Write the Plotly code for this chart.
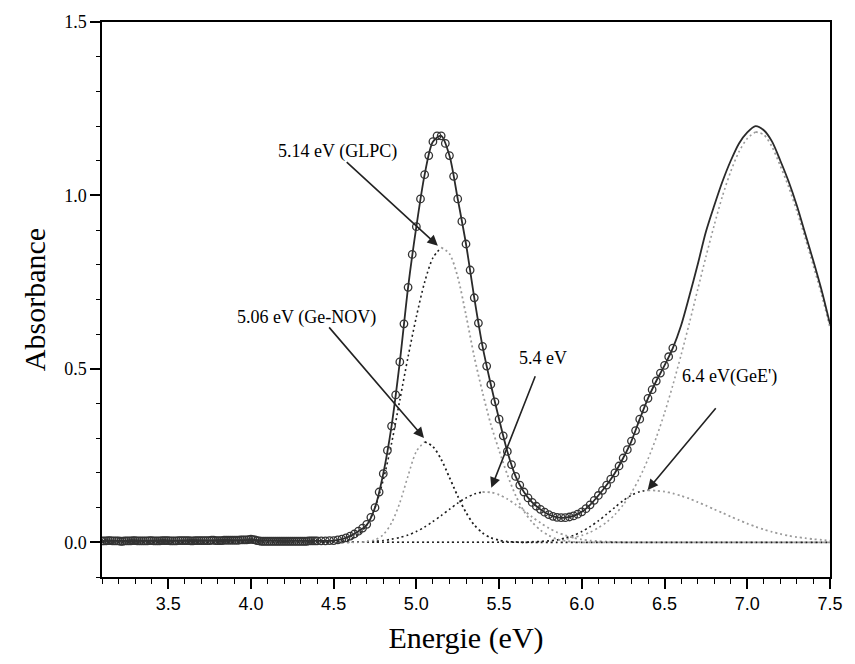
import plotly.graph_objects as go

# ---------------- data ----------------
# measured spectrum (open circles)
data_energy = [
    3.1, 3.1125, 3.125, 3.1375, 3.15, 3.1625, 3.175, 3.1875, 3.2, 3.2125, 3.225, 3.2375, 3.25, 3.2625, 3.275, 3.2875,
    3.3, 3.3125, 3.325, 3.3375, 3.35, 3.3625, 3.375, 3.3875, 3.4, 3.4125, 3.425, 3.4375, 3.45, 3.4625, 3.475, 3.4875,
    3.5, 3.5125, 3.525, 3.5375, 3.55, 3.5625, 3.575, 3.5875, 3.6, 3.6125, 3.625, 3.6375, 3.65, 3.6625, 3.675, 3.6875,
    3.7, 3.7125, 3.725, 3.7375, 3.75, 3.7625, 3.775, 3.7875, 3.8, 3.8125, 3.825, 3.8375, 3.85, 3.8625, 3.875, 3.8875,
    3.9, 3.9125, 3.925, 3.9375, 3.95, 3.9625, 3.975, 3.9875, 4.0, 4.0125, 4.025, 4.0375, 4.05, 4.0625, 4.075, 4.0875,
    4.1, 4.1125, 4.125, 4.1375, 4.15, 4.1625, 4.175, 4.1875, 4.2, 4.2125, 4.225, 4.2375, 4.25, 4.2625, 4.275, 4.2875,
    4.3, 4.3125, 4.325, 4.3375, 4.35, 4.3625, 4.375, 4.3875,
    4.4, 4.425, 4.45, 4.475, 4.5, 4.525, 4.55, 4.575, 4.6, 4.625, 4.65, 4.675, 4.7, 4.725, 4.75, 4.775,
    4.8, 4.825, 4.85, 4.875, 4.9, 4.925, 4.95, 4.975, 5.0, 5.025, 5.05, 5.075, 5.1, 5.125, 5.15, 5.175,
    5.2, 5.225, 5.25, 5.275, 5.3, 5.325, 5.35, 5.375, 5.4, 5.425, 5.45, 5.475, 5.5, 5.525, 5.55, 5.575,
    5.6, 5.625, 5.65, 5.675, 5.7, 5.725, 5.75, 5.775, 5.8, 5.825, 5.85, 5.875, 5.9, 5.925, 5.95, 5.975,
    6.0, 6.025, 6.05, 6.075, 6.1, 6.125, 6.15, 6.175, 6.2, 6.225, 6.25, 6.275, 6.3, 6.325, 6.35, 6.375,
    6.4, 6.425, 6.45, 6.475, 6.5, 6.525, 6.55]
data_abs = [
    0.004, 0.004, 0.004, 0.005, 0.005, 0.004, 0.004, 0.004, 0.004, 0.003, 0.003, 0.004, 0.004, 0.004, 0.004, 0.005,
    0.005, 0.004, 0.004, 0.004, 0.004, 0.004, 0.004, 0.005, 0.005, 0.004, 0.004, 0.004, 0.004, 0.005, 0.005, 0.005,
    0.005, 0.004, 0.004, 0.004, 0.004, 0.005, 0.005, 0.005, 0.005, 0.005, 0.005, 0.004, 0.004, 0.005, 0.005, 0.005,
    0.005, 0.005, 0.005, 0.005, 0.005, 0.006, 0.006, 0.005, 0.005, 0.005, 0.005, 0.006, 0.006, 0.006, 0.006, 0.006,
    0.006, 0.006, 0.006, 0.007, 0.007, 0.007, 0.007, 0.008, 0.009, 0.008, 0.007, 0.005, 0.004, 0.003, 0.003, 0.003,
    0.003, 0.003, 0.003, 0.003, 0.003, 0.003, 0.003, 0.003, 0.003, 0.003, 0.003, 0.003, 0.003, 0.003, 0.003, 0.003,
    0.003, 0.003, 0.003, 0.003, 0.004, 0.004, 0.004, 0.004,
    0.004, 0.004, 0.004, 0.005, 0.005, 0.007, 0.009, 0.013, 0.018, 0.024, 0.032, 0.041, 0.052, 0.072, 0.100, 0.145,
    0.198, 0.265, 0.335, 0.425, 0.520, 0.630, 0.735, 0.830, 0.910, 0.990, 1.060, 1.115, 1.155, 1.172, 1.172, 1.150,
    1.115, 1.055, 0.990, 0.925, 0.860, 0.785, 0.705, 0.632, 0.565, 0.508, 0.455, 0.405, 0.355, 0.307, 0.262, 0.224,
    0.190, 0.165, 0.145, 0.128, 0.115, 0.104, 0.095, 0.087, 0.080, 0.075, 0.072, 0.071, 0.071, 0.073, 0.076, 0.081,
    0.088, 0.097, 0.108, 0.121, 0.135, 0.150, 0.165, 0.182, 0.200, 0.220, 0.243, 0.267, 0.292, 0.322, 0.355, 0.385,
    0.415, 0.440, 0.465, 0.488, 0.510, 0.535, 0.560]

# energy grid of the fit and of the fitted components
fit_energy = [
    3.1, 3.5, 4.0, 4.4, 4.45, 4.5, 4.55, 4.6, 4.65, 4.7, 4.75, 4.8, 4.85, 4.9, 4.95, 5.0, 5.05, 5.1, 5.15,
    5.2, 5.25, 5.3, 5.35, 5.4, 5.45, 5.5, 5.55, 5.6, 5.65, 5.7, 5.75, 5.8, 5.85, 5.9, 5.95, 6.0, 6.05, 6.1,
    6.15, 6.2, 6.25, 6.3, 6.35, 6.4, 6.45, 6.5, 6.55, 6.6, 6.65, 6.7, 6.75, 6.8, 6.85, 6.9, 6.95, 7.0, 7.05,
    7.1, 7.15, 7.2, 7.25, 7.3, 7.35, 7.4, 7.45, 7.5]
fit_total = [
    0.004, 0.004, 0.006, 0.004, 0.004, 0.005, 0.009, 0.018, 0.032, 0.050, 0.100, 0.198, 0.335, 0.520, 0.735, 0.910, 1.060, 1.155, 1.172,
    1.115, 0.990, 0.860, 0.705, 0.565, 0.455, 0.355, 0.262, 0.190, 0.145, 0.115, 0.095, 0.080, 0.072, 0.071, 0.076, 0.088, 0.108, 0.135,
    0.165, 0.200, 0.243, 0.292, 0.355, 0.415, 0.465, 0.510, 0.560, 0.625, 0.710, 0.800, 0.895, 0.970, 1.040, 1.100, 1.150, 1.182, 1.200,
    1.188, 1.155, 1.100, 1.040, 0.970, 0.890, 0.810, 0.725, 0.629]
band_ge_nov = [
    0, 0, 0, 0, 0, 0, 0, 0, 0, 0.002, 0.007, 0.022, 0.056, 0.114, 0.192, 0.262, 0.290, 0.276, 0.239,
    0.187, 0.133, 0.086, 0.050, 0.027, 0.013, 0.006, 0.002, 0.001, 0, 0, 0, 0, 0, 0, 0, 0, 0, 0,
    0, 0, 0, 0, 0, 0, 0, 0, 0, 0, 0, 0, 0, 0, 0, 0, 0, 0, 0,
    0, 0, 0, 0, 0, 0, 0, 0, 0]
band_glpc = [
    0, 0, 0, 0, 0, 0.001, 0.003, 0.008, 0.022, 0.050, 0.100, 0.180, 0.285, 0.410, 0.535, 0.650, 0.750, 0.820, 0.850,
    0.832, 0.765, 0.655, 0.535, 0.432, 0.340, 0.265, 0.195, 0.135, 0.090, 0.058, 0.035, 0.020, 0.009, 0.004, 0.001, 0, 0, 0,
    0, 0, 0, 0, 0, 0, 0, 0, 0, 0, 0, 0, 0, 0, 0, 0, 0, 0, 0,
    0, 0, 0, 0, 0, 0, 0, 0, 0]
band_54 = [
    0, 0, 0, 0, 0, 0, 0, 0, 0.001, 0.002, 0.003, 0.005, 0.009, 0.014, 0.021, 0.031, 0.044, 0.060, 0.077,
    0.095, 0.113, 0.128, 0.139, 0.145, 0.144, 0.137, 0.125, 0.109, 0.092, 0.073, 0.056, 0.041, 0.029, 0.020, 0.013, 0.008, 0.005, 0.003,
    0.002, 0.001, 0, 0, 0, 0, 0, 0, 0, 0, 0, 0, 0, 0, 0, 0, 0, 0, 0,
    0, 0, 0, 0, 0, 0, 0, 0, 0]
band_gee = [
    0, 0, 0, 0, 0, 0, 0, 0, 0, 0, 0, 0, 0, 0, 0, 0, 0, 0, 0,
    0, 0, 0, 0, 0, 0, 0, 0, 0, 0, 0.001, 0.002, 0.004, 0.007, 0.013, 0.020, 0.031, 0.045, 0.062,
    0.081, 0.101, 0.120, 0.136, 0.146, 0.150, 0.149, 0.146, 0.141, 0.134, 0.126, 0.116, 0.106, 0.095, 0.085, 0.074, 0.064, 0.054, 0.045,
    0.037, 0.030, 0.024, 0.019, 0.015, 0.012, 0.009, 0.007, 0.005]
band_7ev = [
    0, 0, 0, 0, 0, 0, 0, 0, 0, 0, 0, 0, 0, 0, 0, 0, 0, 0, 0,
    0, 0, 0, 0, 0, 0, 0, 0, 0, 0, 0.002, 0.003, 0.004, 0.006, 0.009, 0.014, 0.020, 0.029, 0.042,
    0.058, 0.080, 0.108, 0.143, 0.187, 0.240, 0.302, 0.373, 0.453, 0.540, 0.632, 0.728, 0.823, 0.914, 0.998, 1.069, 1.126, 1.164, 1.183,
    1.175, 1.140, 1.085, 1.025, 0.955, 0.878, 0.797, 0.713, 0.620]

# annotation labels: (text, text position, arrow tail, arrow head) in data units
labels = ["5.14 eV (GLPC)", "5.06 eV (Ge-NOV)", "5.4 eV", "6.4 eV(GeE')"]
label_pos = [(4.525, 1.128), (4.333, 0.647), (5.764, 0.532), (6.895, 0.477)]
arrow_tail = [(4.57, 1.10), (4.465, 0.624), (5.722, 0.483), (6.817, 0.391)]
arrow_head = [(5.13, 0.855), (5.046, 0.301), (5.453, 0.157), (6.398, 0.151)]

x_ticks = [3.5, 4.0, 4.5, 5.0, 5.5, 6.0, 6.5, 7.0, 7.5]
x_ticktext = ["3.5", "4.0", "4.5", "5.0", "5.5", "6.0", "6.5", "7.0", "7.5"]
y_ticks = [0.0, 0.5, 1.0, 1.5]
y_ticktext = ["0.0", "0.5", "1.0", "1.5"]

# ---------------- figure ----------------
SERIF = "Liberation Serif, Times New Roman, serif"
SANS = "Liberation Sans, Arial, sans-serif"
BLACK_DOT = "#1e1e1e"
GRAY_DOT = "#9a9a9a"

fig = go.Figure()

# components: (values, colour of the low-energy side, colour of the high-energy side)
components = [
    (band_7ev, GRAY_DOT, GRAY_DOT),
    (band_gee, BLACK_DOT, GRAY_DOT),
    (band_54, BLACK_DOT, GRAY_DOT),
    (band_ge_nov, GRAY_DOT, BLACK_DOT),
    (band_glpc, BLACK_DOT, GRAY_DOT),
]
for vals, c_left, c_right in components:
    k = vals.index(max(vals))
    fig.add_trace(go.Scatter(x=fit_energy[:k + 1], y=vals[:k + 1], mode="lines",
                             line=dict(color=c_left, width=1.6, dash="2px,3px", shape="spline", smoothing=0.8),
                             showlegend=False, hoverinfo="skip"))
    fig.add_trace(go.Scatter(x=fit_energy[k:], y=vals[k:], mode="lines",
                             line=dict(color=c_right, width=1.8, dash="2px,3px", shape="spline", smoothing=0.8),
                             showlegend=False, hoverinfo="skip"))

# fitted total
fig.add_trace(go.Scatter(x=fit_energy, y=fit_total, mode="lines",
                         line=dict(color="#2a2a2a", width=1.8, shape="spline", smoothing=0.8),
                         showlegend=False))
# measured points
fig.add_trace(go.Scatter(x=data_energy, y=data_abs, mode="markers",
                         marker=dict(symbol="circle-open", size=7.5, color="#333333", line=dict(width=1.3)),
                         showlegend=False))

for txt, (tx, ty), (ax_, ay_), (hx, hy) in zip(labels, label_pos, arrow_tail, arrow_head):
    fig.add_annotation(x=tx, y=ty, xref="x", yref="y", text=txt, showarrow=False,
                       font=dict(family=SERIF, size=18, color="black"))
    fig.add_annotation(x=hx, y=hy, ax=ax_, ay=ay_, xref="x", yref="y", axref="x", ayref="y",
                       text="", showarrow=True, arrowhead=2, arrowsize=1.3, arrowwidth=1.6,
                       arrowcolor="#222222", standoff=0, startstandoff=0)

fig.update_layout(
    width=855, height=664,
    margin=dict(l=102, r=18, t=22, b=87),
    paper_bgcolor="white", plot_bgcolor="white",
    showlegend=False,
)
fig.update_xaxes(
    range=[3.1, 7.5], tickvals=x_ticks, ticktext=x_ticktext,
    ticks="outside", ticklen=10, tickwidth=1.5, tickcolor="black",
    minor=dict(dtick=0.1, tick0=0, ticks="outside", ticklen=5, tickwidth=1.3, tickcolor="black", showgrid=False),
    showline=True, linewidth=1.5, linecolor="black", mirror=True,
    showgrid=False, zeroline=False,
    tickfont=dict(family=SANS, size=18, color="black"),
    title=dict(text="Energie (eV)", font=dict(family=SERIF, size=30, color="black"), standoff=14),
)
fig.update_yaxes(
    range=[-0.1, 1.5], tickvals=y_ticks, ticktext=y_ticktext,
    ticks="outside", ticklen=10, tickwidth=1.5, tickcolor="black",
    minor=dict(dtick=0.1, tick0=0, ticks="outside", ticklen=4, tickwidth=1.3, tickcolor="black", showgrid=False),
    showline=True, linewidth=1.5, linecolor="black", mirror=True,
    showgrid=False, zeroline=False,
    tickfont=dict(family=SERIF, size=18, color="black"),
    title=dict(text="Absorbance", font=dict(family=SERIF, size=30, color="black"), standoff=10),
)

fig.write_html("out.html")
